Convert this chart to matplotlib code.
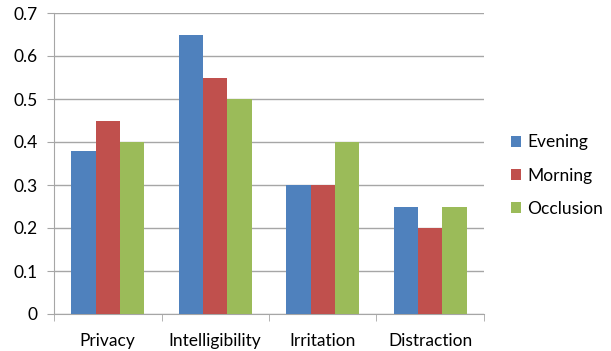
import numpy as np
import matplotlib.pyplot as plt

categories = ['Privacy', 'Intelligibility', 'Irritation', 'Distraction']
series = ['Evening', 'Morning', 'Occlusion']
evening = [0.38, 0.65, 0.30, 0.25]
morning = [0.45, 0.55, 0.30, 0.20]
occlusion = [0.40, 0.50, 0.40, 0.25]
colors = ['#4F81BD', '#C0504D', '#9BBB59']

plt.rcParams['font.family'] = ['Lato', 'DejaVu Sans']

fig = plt.figure(figsize=(6.11, 3.51), dpi=100)
ax = fig.add_axes([54 / 611, 37 / 351, 430 / 611, 301 / 351])

x = np.arange(len(categories))
w = 0.225
for i, (name, vals) in enumerate(zip(series, [evening, morning, occlusion])):
    ax.bar(x + (i - 1) * w, vals, w, color=colors[i], label=name, zorder=3)

ax.set_xlim(-0.5, len(categories) - 0.5)
ax.set_ylim(0, 0.7)
ax.set_yticks(np.arange(0, 0.71, 0.1))
ax.set_yticklabels(['0'] + ['%.1f' % v for v in np.arange(0.1, 0.71, 0.1)])
ax.grid(axis='y', color='#A6A6A6', linewidth=1, zorder=0)

ax.set_xticks(x)
ax.set_xticklabels(categories)
ax.set_xticks(np.arange(-0.5, len(categories), 1), minor=True)
ax.tick_params(axis='x', which='major', length=0, pad=14, labelsize=12.5)
ax.tick_params(axis='x', which='minor', length=5, color='#A6A6A6', direction='out')
ax.tick_params(axis='y', length=5, color='#A6A6A6', labelsize=12.5, pad=7)

for s in ['top', 'right']:
    ax.spines[s].set_visible(False)
ax.spines['left'].set_color('#A6A6A6')
ax.spines['bottom'].set_color('#A6A6A6')

fig.legend(loc='center left', bbox_to_anchor=(0.81, 0.5), frameon=False,
           fontsize=12.5, handlelength=0.6, handleheight=0.6, handletextpad=0.35,
           labelspacing=1.0)

fig.savefig('out.png', dpi=100)
